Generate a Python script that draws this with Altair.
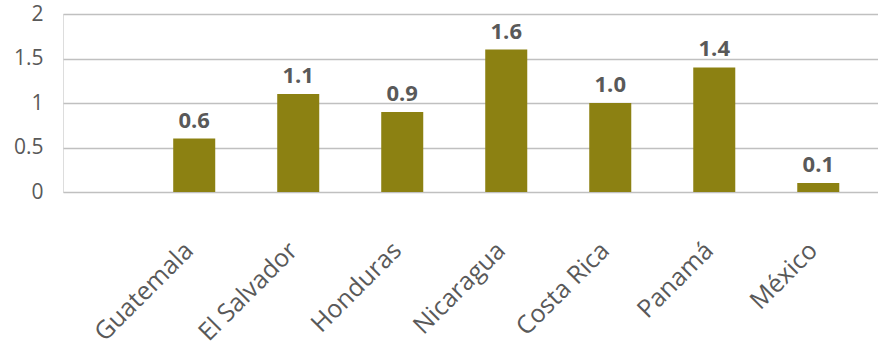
import altair as alt
import pandas as pd

countries = ["Guatemala", "El Salvador", "Honduras", "Nicaragua", "Costa Rica", "Panamá", "México"]
values = [0.6, 1.1, 0.9, 1.6, 1.0, 1.4, 0.1]
labels = ["0.6", "1.1", "0.9", "1.6", "1.0", "1.4", "0.1"]
y_ticks = [0, 0.5, 1, 1.5, 2]

df = pd.DataFrame({"country": countries, "value": values, "label": labels})

FONT = "Open Sans"
GRAY = "#595959"

x = alt.X(
    "country:N",
    sort=countries,
    scale=alt.Scale(paddingInner=0.596, paddingOuter=0.716, align=0.74),
    axis=alt.Axis(
        title=None, labelAngle=-45, labelFont=FONT, labelFontSize=25,
        labelColor=GRAY, domain=False, ticks=False, labelPadding=54,
        labelOffset=-5, labelAlign="right", labelBaseline="middle",
    ),
)
y = alt.Y(
    "value:Q",
    scale=alt.Scale(domain=[0, 2], nice=False),
    axis=alt.Axis(
        title=None, values=y_ticks, labelFont=FONT, labelFontSize=21,
        labelColor=GRAY, domain=False, ticks=False, labelPadding=20,
        gridColor="#c0c0c0", gridWidth=1.5,
        labelExpr="datum.value == 0 ? '0' : format(datum.value, '~g')",
    ),
)

base = alt.Chart(df)
bars = base.mark_bar(color="#8C8112").encode(x=x, y=y)
text = base.mark_text(
    font=FONT, fontSize=22, fontWeight="bold", color=GRAY, dy=-18
).encode(x=alt.X("country:N", sort=countries), y="value:Q", text="label:N")

chart = (bars + text).properties(
    width=815, height=178,
    padding={"left": 63, "top": 14, "right": 0, "bottom": 159},
    autosize="none",
).configure_view(stroke=None).configure(background="white")

chart.save("out.html", embed_options={"renderer": "svg", "actions": False})
